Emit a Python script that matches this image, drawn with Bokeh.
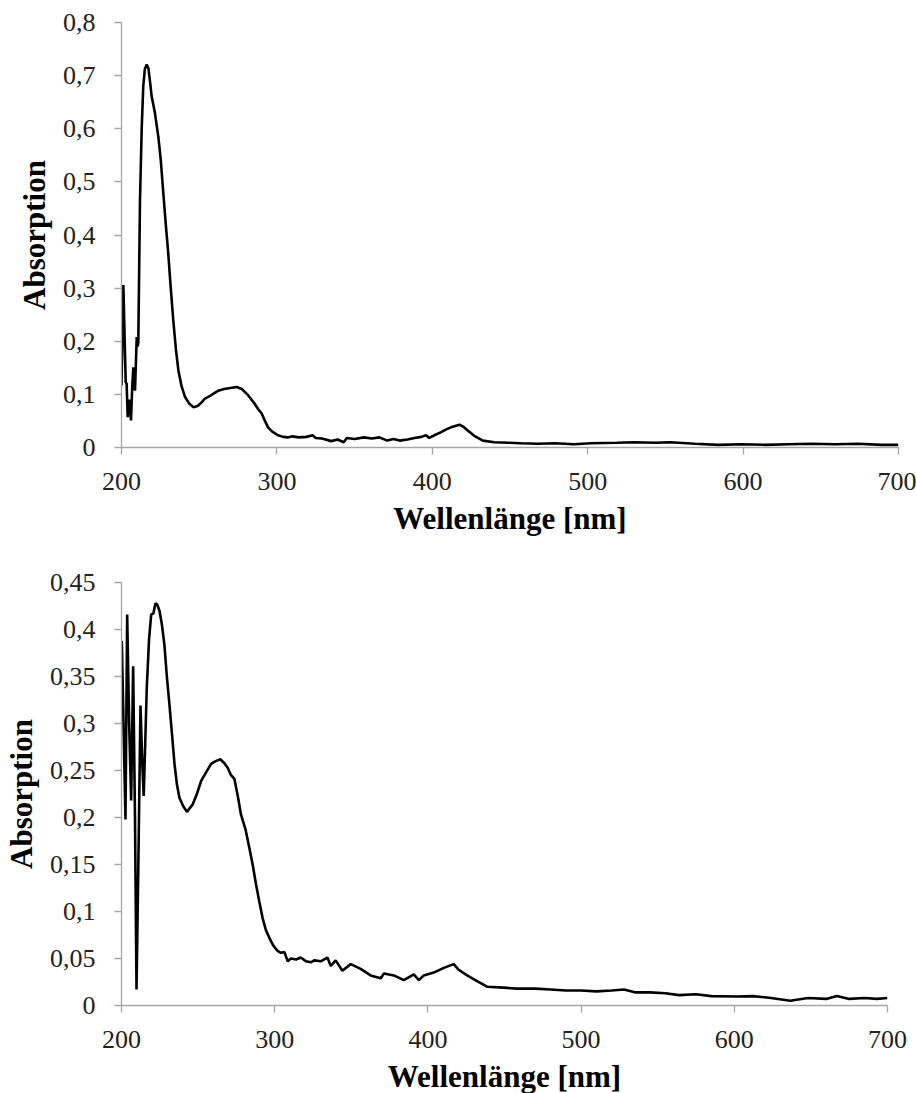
from bokeh.plotting import figure
from bokeh.layouts import column
from bokeh.models import Range1d, FixedTicker, CustomJSTickFormatter
from bokeh.embed import file_html
from bokeh.resources import INLINE

# ---- Data: top spectrum ----
wl_top = [200, 201.2, 202.7, 203.3, 204.0, 204.8, 205.5, 206.1, 206.9, 207.6, 208.2, 208.7,
          209.8, 210.3, 210.8, 211.9, 213.0, 214.0, 215.0, 216.2, 217.3, 218.3, 219.4, 221.5,
          223.7, 225.3, 226.9, 228.5, 230.1, 231.7, 233.3, 235.0, 236.6, 238.7, 240.9, 243.5,
          246.2, 248.0, 249.4, 251.5, 253.7, 257.0, 260.0, 262.3, 266.0, 270.0, 274.1, 277.5,
          281.6, 285.8, 288.0, 290.2, 292.0, 294.3, 297.0, 300.7, 304.0, 307.0, 310.0, 314.0,
          319.0, 323.0, 325.0, 329.0, 335.0, 339.0, 343.0, 345.0, 350.0, 356.0, 361.0, 366.0,
          371.0, 375.0, 379.0, 384.0, 388.6, 393.0, 396.0, 398.0, 402.0, 405.7, 409.0, 412.0,
          417.5, 420.0, 422.8, 427.0, 432.5, 440.0, 449.0, 457.0, 468.0, 479.0, 491.0, 502.0,
          519.0, 529.0, 544.0, 553.0, 569.0, 584.0, 599.0, 614.0, 629.0, 644.0, 659.0, 674.0,
          689.0, 700.0]
abs_top = [0.117, 0.306, 0.123, 0.120, 0.057, 0.090, 0.076, 0.051, 0.114, 0.151, 0.120, 0.107,
           0.208, 0.190, 0.196, 0.466, 0.600, 0.680, 0.712, 0.721, 0.714, 0.690, 0.661, 0.630,
           0.585, 0.540, 0.479, 0.420, 0.365, 0.300, 0.240, 0.185, 0.145, 0.115, 0.095, 0.083,
           0.076, 0.077, 0.079, 0.085, 0.092, 0.097, 0.103, 0.107, 0.110, 0.112, 0.114, 0.110,
           0.098, 0.082, 0.072, 0.064, 0.052, 0.038, 0.030, 0.023, 0.020, 0.019, 0.021, 0.019,
           0.020, 0.023, 0.018, 0.017, 0.012, 0.015, 0.010, 0.018, 0.016, 0.019, 0.017, 0.019,
           0.013, 0.016, 0.013, 0.015, 0.018, 0.020, 0.023, 0.018, 0.024, 0.029, 0.034, 0.038,
           0.043, 0.039, 0.032, 0.022, 0.013, 0.010, 0.009, 0.008, 0.007, 0.008, 0.006, 0.008,
           0.009, 0.010, 0.009, 0.010, 0.007, 0.005, 0.006, 0.005, 0.006, 0.007, 0.006, 0.007,
           0.005, 0.005]

# ---- Data: bottom spectrum ----
wl_bot = [200.2, 202.6, 203.7, 205.0, 206.3, 207.6, 208.8, 209.8, 211.0, 212.4, 213.5, 214.5,
          215.5, 216.5, 218.0, 219.4, 220.8, 222.2, 223.5, 224.8, 226.4, 228.0, 229.6, 231.3,
          233.0, 234.6, 236.2, 237.8, 240.3, 242.8, 244.6, 246.5, 249.2, 252.0, 255.2, 258.5,
          261.5, 264.5, 267.0, 269.3, 271.5, 273.7, 276.0, 278.0, 281.0, 283.4, 285.6, 287.8,
          290.0, 292.1, 294.3, 296.5, 299.0, 301.9, 304.0, 306.3, 308.5, 310.6, 314.0, 317.0,
          320.5, 323.6, 325.7, 330.0, 334.4, 336.6, 339.8, 344.2, 349.6, 356.1, 362.6, 369.2,
          371.3, 377.8, 384.3, 390.8, 394.1, 397.3, 403.8, 410.4, 416.9, 420.1, 425.6, 432.1,
          438.6, 449.5, 458.2, 470.0, 480.0, 490.0, 500.0, 510.0, 520.0, 528.0, 535.0, 545.0,
          555.0, 564.0, 575.0, 585.0, 601.6, 612.0, 624.0, 636.6, 648.0, 660.0, 667.0, 675.0,
          685.0, 693.0, 700.0]
abs_bot = [0.388, 0.198, 0.416, 0.300, 0.218, 0.361, 0.200, 0.017, 0.150, 0.319, 0.260, 0.223,
           0.280, 0.338, 0.390, 0.416, 0.417, 0.428, 0.426, 0.420, 0.405, 0.384, 0.350, 0.320,
           0.288, 0.257, 0.235, 0.221, 0.212, 0.206, 0.210, 0.214, 0.225, 0.239, 0.248, 0.257,
           0.260, 0.262, 0.258, 0.253, 0.245, 0.241, 0.222, 0.203, 0.187, 0.168, 0.150, 0.129,
           0.110, 0.093, 0.080, 0.072, 0.064, 0.058, 0.056, 0.057, 0.047, 0.050, 0.049, 0.051,
           0.047, 0.046, 0.048, 0.047, 0.051, 0.042, 0.048, 0.037, 0.044, 0.039, 0.032, 0.029,
           0.034, 0.032, 0.027, 0.033, 0.027, 0.032, 0.035, 0.040, 0.044, 0.038, 0.032, 0.026,
           0.020, 0.019, 0.018, 0.018, 0.017, 0.016, 0.016, 0.015, 0.016, 0.017, 0.014, 0.014,
           0.013, 0.011, 0.012, 0.010, 0.0096, 0.010, 0.008, 0.005, 0.008, 0.007, 0.010, 0.007,
           0.008, 0.007, 0.008]

x_ticks = [200, 300, 400, 500, 600, 700]
y_ticks_top = [0, 0.1, 0.2, 0.3, 0.4, 0.5, 0.6, 0.7, 0.8]
y_ticks_bot = [0, 0.05, 0.1, 0.15, 0.2, 0.25, 0.3, 0.35, 0.4, 0.45]
x_title = "Wellenlänge [nm]"
y_title = "Absorption"

FONT = "Liberation Serif"
AXIS_COLOR = "#a6a6a6"
fmt = CustomJSTickFormatter(code="return (Math.round(tick*100)/100).toString().replace('.', ',');")


def make_fig(wl, ab, ymax, yticks, fw, fh, left, right, top, bottom):
    p = figure(frame_width=fw, frame_height=fh,
               x_range=Range1d(200, 700), y_range=Range1d(0, ymax),
               output_backend="svg", toolbar_location=None,
               min_border_left=left, min_border_right=right,
               min_border_top=top, min_border_bottom=bottom)
    p.outline_line_color = None
    p.grid.visible = False
    p.background_fill_color = "white"
    p.border_fill_color = "white"
    p.line(wl, ab, line_color="black", line_width=2.6)

    p.xaxis.ticker = FixedTicker(ticks=x_ticks)
    p.yaxis.ticker = FixedTicker(ticks=yticks)
    p.yaxis.formatter = fmt
    for ax in (p.xaxis[0], p.yaxis[0]):
        ax.axis_line_color = AXIS_COLOR
        ax.axis_line_width = 1.3
        ax.major_tick_line_color = AXIS_COLOR
        ax.major_tick_line_width = 1.3
        ax.major_tick_out = 7
        ax.major_tick_in = 0
        ax.minor_tick_line_color = None
        ax.major_label_text_font = FONT
        ax.major_label_text_font_size = "26px"
        ax.major_label_text_color = "#222222"
        ax.axis_label_text_font = FONT
        ax.axis_label_text_font_size = "31px"
        ax.axis_label_text_font_style = "bold"
        ax.axis_label_text_color = "#000000"
    p.xaxis.axis_label = x_title
    p.yaxis.axis_label = y_title
    p.xaxis.major_label_standoff = 18
    p.yaxis.major_label_standoff = 19
    p.xaxis.axis_label_standoff = 8
    p.yaxis.axis_label_standoff = 8
    return p


p1 = make_fig(wl_top, abs_top, 0.8, y_ticks_top, 777, 425, 116, 23, 22, 113)
p2 = make_fig(wl_bot, abs_bot, 0.45, y_ticks_bot, 766, 423, 117, 33, 22, 88)

layout = column(p1, p2, spacing=0)
open("out.html", "w").write(file_html(layout, INLINE))
